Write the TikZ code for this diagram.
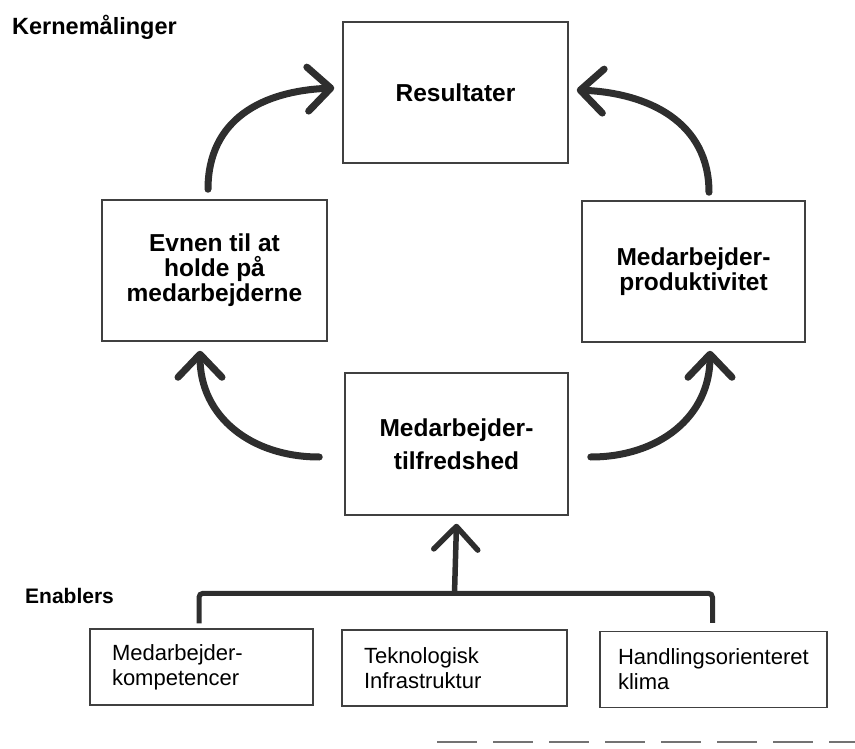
\documentclass[tikz,border=0pt]{standalone}
\usepackage{fontspec}
\setmainfont{Liberation Sans}
\usetikzlibrary{arrows.meta,calc}
\tikzset{
  mainbox/.style={draw=black!75, line width=1.5pt, minimum width=225pt, minimum height=141pt,
    inner sep=0pt, align=center, font=\bfseries\fontsize{24.5}{25}\selectfont},
  enabox/.style={draw=black!75, line width=1.4pt, minimum height=76pt, inner xsep=22pt, inner ysep=0pt,
    align=left, font=\fontsize{22}{25}\selectfont},
  bigarrow/.style={draw=black!82, line width=7pt, line cap=round,
    -{Straight Barb[length=23pt,width=44pt,round]}},
  treeline/.style={draw=black!82, line width=5pt, rounded corners=4pt},
  heading/.style={anchor=base west, inner sep=0pt, font=\bfseries\fontsize{23.5}{26}\selectfont}
}
\begin{document}
\begin{tikzpicture}[x=1pt,y=-1pt]
\useasboundingbox (0,0) rectangle (855,749);

\node[heading] (kern) at (12,35) {Kernemålinger};
\node[heading, font=\bfseries\fontsize{21}{24}\selectfont] (enab) at (25,603) {Enablers};

\node[mainbox] (res) at (455.5,92.5) {Resultater};
\node[mainbox] (left) at (214.5,270.5) {Evnen til at\\holde på\\medarbejderne};
\node[mainbox, minimum width=223pt] (right) at (693.5,271.5) {Medarbejder-\\produktivitet};
\node[mainbox, minimum width=223pt, minimum height=142pt,
      font=\bfseries\fontsize{24.5}{33}\selectfont] (mid) at (456.5,444) {Medarbejder-\\tilfredshed};

\node[enabox, text width=179pt] (e1) at (201.5,667) {Medarbejder-\\kompetencer};
\node[enabox, text width=181pt] (e2) at (454.5,668) {Teknologisk\\Infrastruktur};
\node[enabox, inner xsep=18pt, text width=191pt] (e3) at (713.5,669.5) {Handlingsorienteret\\klima};

% curved arrows
\draw[bigarrow] ([shift={(-6.5pt,10pt)}]left.north)
   .. controls +(0pt,70pt) and +(-72pt,-3pt) .. ([shift={(-8pt,4.5pt)}]res.west);
\draw[bigarrow] ([shift={(15.5pt,8pt)}]right.north)
   .. controls +(0pt,70pt) and +(72pt,-3pt) .. ([shift={(8pt,2.5pt)}]res.east);
\draw[bigarrow] ([shift={(-25pt,-13pt)}]mid.west)
   .. controls +(-68pt,0pt) and +(0pt,-66pt) .. ([shift={(-14.5pt,-9pt)}]left.south);
\draw[bigarrow] ([shift={(22pt,-13pt)}]mid.east)
   .. controls +(68pt,0pt) and +(0pt,-66pt) .. ([shift={(16.5pt,-8pt)}]right.south);

% enabler tree
\coordinate (barL) at ([shift={(-2.5pt,35pt)}]e1.north);
\draw[treeline] ([shift={(-2.5pt,5pt)}]e1.north) -- (barL) -| ([shift={(-1pt,8pt)}]e3.north);
\draw[bigarrow, line width=5.5pt, line cap=butt] (e2.north |- barL) -- ([yshift=-8pt]mid.south);

% scan dashes at the foot
\coordinate (dashA) at (437,742);
\coordinate (dashB) at (855,742);
\draw[black!55, line width=1.3pt, dash pattern=on 40pt off 16pt] (dashA) -- (dashB);
\end{tikzpicture}
\end{document}
